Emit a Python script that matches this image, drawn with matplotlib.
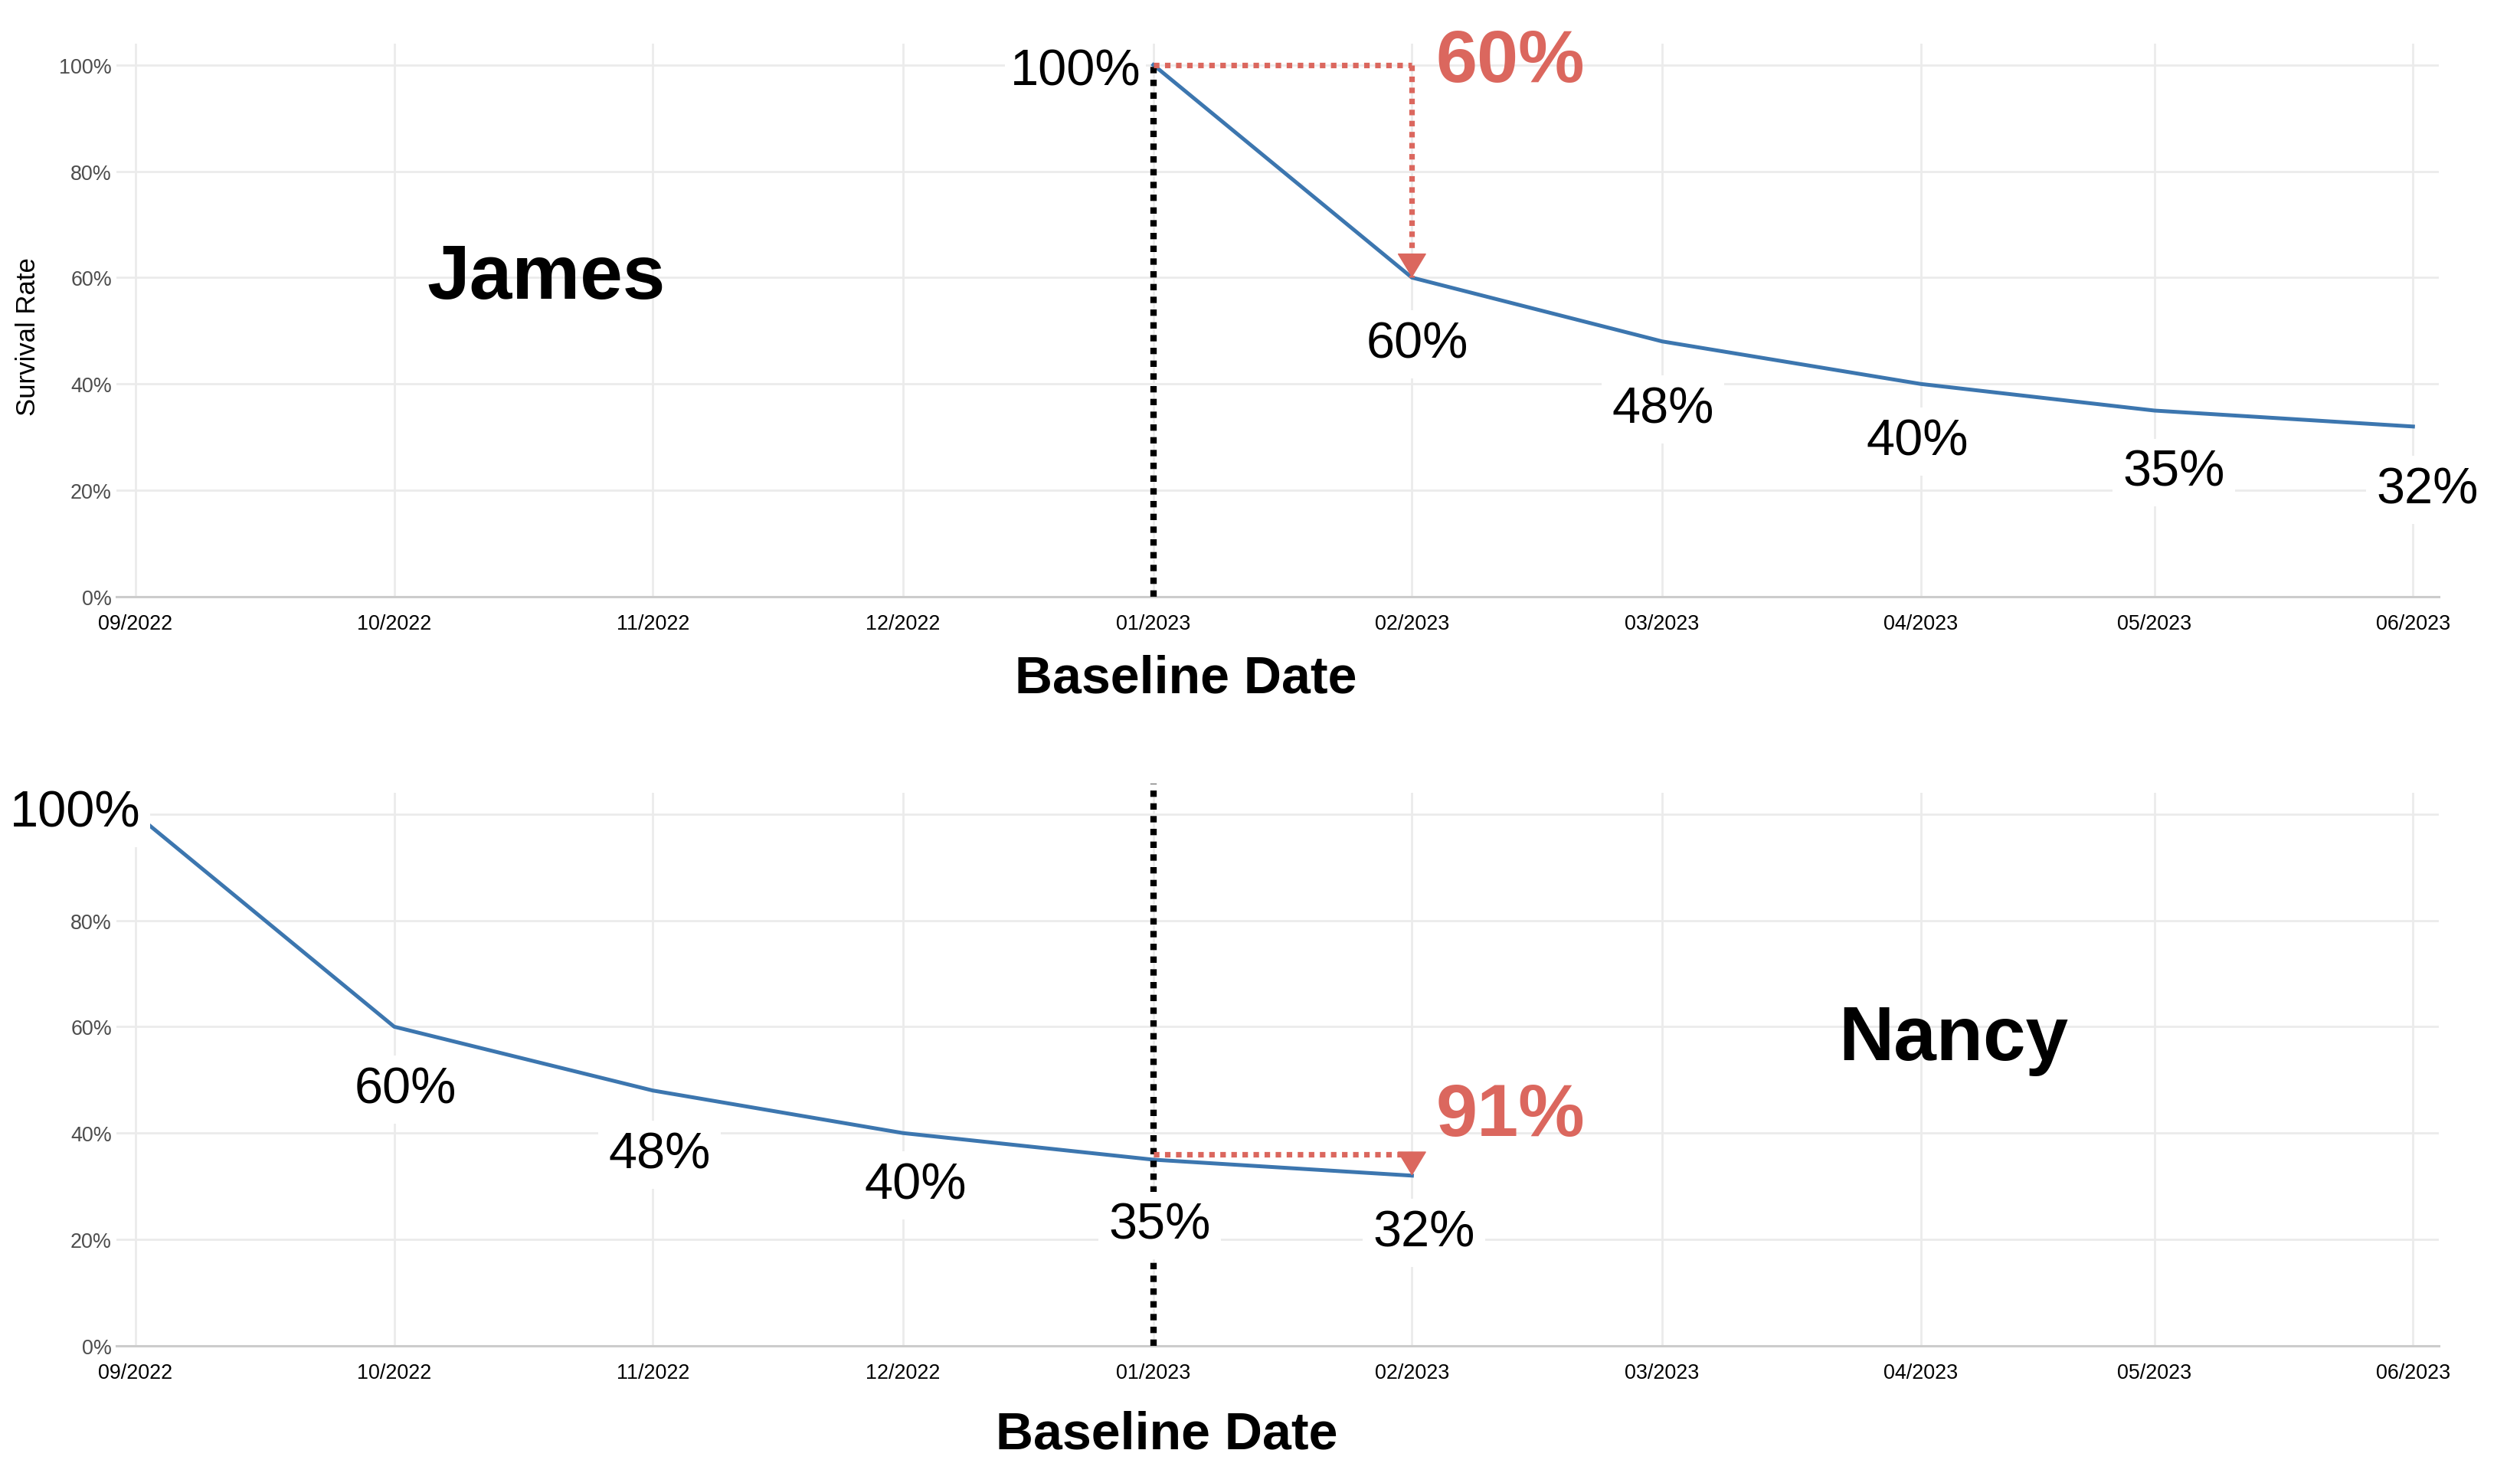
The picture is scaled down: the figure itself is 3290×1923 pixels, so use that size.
import numpy as np
import pandas as pd
import matplotlib
matplotlib.use("Agg")
import matplotlib.pyplot as plt
import matplotlib.dates as mdates

plt.rcParams['font.family'] = ['Liberation Sans', 'DejaVu Sans']

# data
month_dates = pd.to_datetime(["2022-09-01", "2022-10-02", "2022-11-02", "2022-12-02",
                              "2023-01-01", "2023-02-01", "2023-03-03", "2023-04-03",
                              "2023-05-01", "2023-06-01"])
month_labels = ["09/2022", "10/2022", "11/2022", "12/2022", "01/2023",
                "02/2023", "03/2023", "04/2023", "05/2023", "06/2023"]
y_ticks = [0.0, 0.2, 0.4, 0.6, 0.8, 1.0]
y_tick_labels = ["0%", "20%", "40%", "60%", "80%", "100%"]

james_dates = month_dates[4:]
james_rate = [1.00, 0.60, 0.48, 0.40, 0.35, 0.32]
nancy_dates = month_dates[:6]
nancy_rate = [1.00, 0.60, 0.48, 0.40, 0.35, 0.32]

baseline_date = month_dates[4]
next_date = month_dates[5]
james_arrow = (1.00, 0.60)
nancy_arrow = (0.36, 0.32)
james_cond = "60%"
nancy_cond = "91%"

# style
BLUE = '#3C76AF'
RED = '#DB675E'
GRID = '#EBEBEB'
PX = 72 / 200  # pixel -> points

fig = plt.figure(figsize=(16.45, 9.62), dpi=200)
ax_top = fig.add_axes([0.0462, 0.5946, 0.9216, 0.3753])
ax_bot = fig.add_axes([0.0462, 0.0863, 0.9216, 0.3753])

x_lo = month_dates[0] - pd.Timedelta(days=2.3)
x_hi = month_dates[-1] + pd.Timedelta(days=3.1)

label_box = dict(boxstyle='square,pad=0.2', fc='white', ec='none')


def base_axes(ax, hide_top_label=False):
    ax.set_xlim(x_lo, x_hi)
    ax.set_ylim(0, 1.04)
    ax.set_xticks(month_dates)
    ax.set_xticklabels(month_labels, fontsize=9.7, color='black')
    ax.set_yticks(y_ticks)
    labels = list(y_tick_labels)
    if hide_top_label:
        # covered by the big 100% label in the reference
        labels[-1] = ""
    ax.set_yticklabels(labels, fontsize=9.7, color='#4D4D4D')
    ax.tick_params(axis='both', length=0)
    ax.tick_params(axis='x', pad=8)
    ax.tick_params(axis='y', pad=2.2)
    ax.grid(True, color=GRID, lw=1.0, zorder=0)
    ax.set_axisbelow(True)
    for s in ['top', 'right', 'left']:
        ax.spines[s].set_visible(False)
    ax.spines['bottom'].set_color('#CCCCCC')
    ax.spines['bottom'].set_linewidth(1.1)


def point_labels(ax, dates, rates, nudges):
    for d, r, (dx, dy) in zip(dates[1:], rates[1:], nudges):
        ax.annotate(f"{r * 100:.0f}%", xy=(d, r), xytext=(dx * PX, dy * PX),
                    textcoords='offset points', ha='center', va='baseline',
                    fontsize=24, bbox=label_box, zorder=6)


def cond_arrow(ax, y_from, y_to, text, text_off):
    ax.plot([baseline_date, next_date], [y_from, y_from], color=RED, lw=2.6,
            ls=(0, (1, 1)), dash_capstyle='butt', zorder=4)
    ax.plot([next_date, next_date], [y_from, y_to], color=RED, lw=2.6,
            ls=(0, (1, 1)), dash_capstyle='butt', zorder=4)
    ax.annotate('', xy=(next_date, y_to), xytext=(0, 10.6), textcoords='offset points',
                arrowprops=dict(arrowstyle='-|>,head_length=0.53,head_width=0.32',
                                mutation_scale=20, color=RED, lw=0.5,
                                shrinkA=0, shrinkB=0), zorder=5)
    ax.annotate(text, xy=(next_date, y_from), xytext=(text_off[0] * PX, text_off[1] * PX),
                textcoords='offset points', ha='left', va='baseline',
                fontsize=35, fontweight='bold', color=RED, zorder=6)


# James
base_axes(ax_top)
ax_top.plot(james_dates, james_rate, color=BLUE, lw=1.8, zorder=3)
ax_top.plot([baseline_date, baseline_date], [0, 1.0], color='black', lw=3.0,
            ls=(0, (1, 1)), dash_capstyle='butt', zorder=4)
cond_arrow(ax_top, james_arrow[0], james_arrow[1], james_cond, (31, -21))
ax_top.annotate("100%", xy=(james_dates[0], james_rate[0]), xytext=(-16 * PX, -26 * PX),
                textcoords='offset points', ha='right', va='baseline', fontsize=24,
                bbox=dict(boxstyle='square,pad=0.1', fc='white', ec='none'), zorder=6)
point_labels(ax_top, james_dates, james_rate,
             [(7, -104), (1, -106), (-4, -92), (25, -98), (19, -100)])
ax_top.text(0.185, 0.54, "James", transform=ax_top.transAxes, ha='center',
            va='baseline', fontsize=36, fontweight='bold')

# Nancy
base_axes(ax_bot, hide_top_label=True)
ax_bot.plot(nancy_dates, nancy_rate, color=BLUE, lw=1.8, zorder=3)
ax_bot.plot([baseline_date, baseline_date], [0, 1.057], color='black', lw=3.0,
            ls=(0, (1, 1)), dash_capstyle='butt', zorder=4, clip_on=False)
cond_arrow(ax_bot, nancy_arrow[0], nancy_arrow[1], nancy_cond, (31, 25))
ax_bot.annotate("100%", xy=(nancy_dates[0], nancy_rate[0]), xytext=(6 * PX, -16 * PX),
                textcoords='offset points', ha='right', va='baseline', fontsize=24,
                bbox=label_box, zorder=6, annotation_clip=False)
point_labels(ax_bot, nancy_dates, nancy_rate,
             [(15, -99), (9, -101), (16, -85), (8, -103), (16, -92)])
ax_bot.text(0.791, 0.518, "Nancy", transform=ax_bot.transAxes, ha='center',
            va='baseline', fontsize=36, fontweight='bold')

# axis titles
fig.text(37 / 3290, 1 - 440 / 1924, "Survival Rate", rotation=90, ha='center',
         va='center', fontsize=12.5)
fig.text(1548 / 3290, 1 - 887 / 1924, "Baseline Date", ha='center', va='center',
         fontsize=24.5, fontweight='bold')
fig.text(1523 / 3290, 1 - 1874 / 1924, "Baseline Date", ha='center', va='center',
         fontsize=24.5, fontweight='bold')

fig.savefig("out.png", dpi=200, facecolor='white')
